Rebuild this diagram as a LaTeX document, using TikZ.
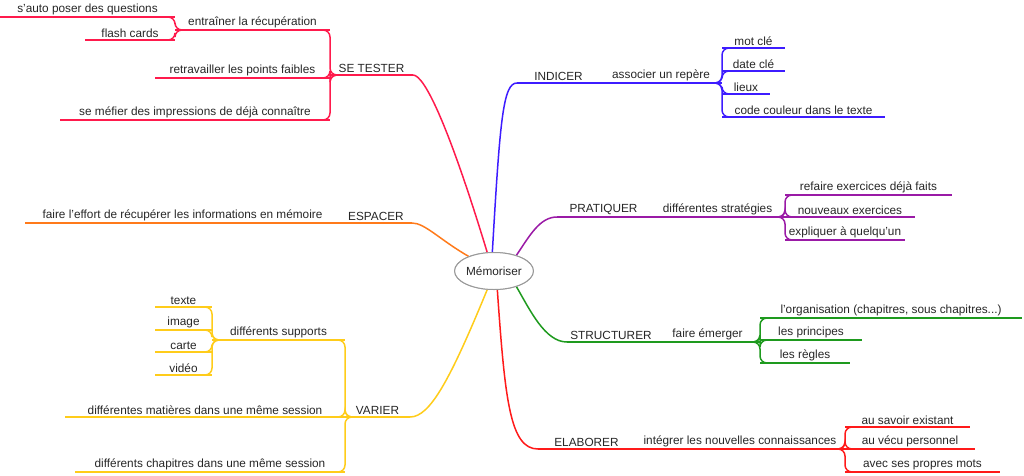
\documentclass[tikz,border=0pt]{standalone}
\usetikzlibrary{calc,shapes.geometric}
\usepackage{fontspec}
\setmainfont{Liberation Sans}
\definecolor{cB}{HTML}{3D1CFF}
\definecolor{cP}{HTML}{9A1AA6}
\definecolor{cG}{HTML}{1E9A1E}
\definecolor{cR}{HTML}{FF1A1A}
\definecolor{cC}{HTML}{FF1A4C}
\definecolor{cO}{HTML}{FF7A1A}
\definecolor{cY}{HTML}{FFCC1A}
\tikzset{lbl/.style={anchor=south,inner sep=2pt,font=\fontsize{11.8}{13}\selectfont,text=black!85},
 ln/.style={line width=1.5pt},
 cbox/.style={ellipse,draw=black!40,line width=1pt,fill=white,minimum width=78pt,minimum height=37pt,inner sep=0pt,font=\fontsize{11.8}{13}\selectfont,text=black!85}}
\newcommand\br[6]{\coordinate (#1-l) at (#2,#4);\coordinate (#1-r) at (#3,#4);
 \draw[ln,#6] (#1-l) -- (#1-r);
 \node[lbl] (#1) at ({(#2+#3)/2},#4) {#5};}
\newcommand\cnR[3]{\draw[ln,#1,rounded corners=7pt] ($(#2-r)+(-8,0)$) -- (#2-r) -- (#2-r |- #3-l) -- ($(#3-l)+(10,0)$);}
\newcommand\cnL[3]{\draw[ln,#1,rounded corners=7pt] ($(#2-l)+(8,0)$) -- (#2-l) -- (#2-l |- #3-r) -- ($(#3-r)+(-10,0)$);}
\begin{document}
\begin{tikzpicture}[x=1pt,y=-1pt]
\useasboundingbox (0,0) rectangle (1024,475);
\node[cbox] (m) at (494,271) {Mémoriser};
% right
\br{ind}{517}{600}{83}{INDICER}{cB}
\br{ass}{600}{722}{83}{associer un repère}{cB}
\br{mot}{722}{785}{48}{mot clé}{cB}
\br{dat}{722}{785}{71}{date clé}{cB}
\br{lie}{722}{770}{94}{lieux}{cB}
\br{cod}{722}{885}{117}{code couleur dans le texte}{cB}
\foreach \c in {mot,dat,lie,cod}{\cnR{cB}{ass}{\c}}
\br{pra}{557}{650}{217}{PRATIQUER}{cP}
\br{str}{650}{785}{217}{différentes stratégies}{cP}
\br{ref}{785}{952}{195}{refaire exercices déjà faits}{cP}
\br{nou}{785}{915}{217}{nouveaux exercices}{cP}
\br{exp}{785}{905}{240}{expliquer à quelqu'un}{cP}
\foreach \c in {ref,nou,exp}{\cnR{cP}{str}{\c}}
\br{stu}{567}{655}{342}{STRUCTURER}{cG}
\br{fai}{655}{760}{342}{faire émerger}{cG}
\br{org}{760}{1022}{318}{l'organisation (chapitres, sous chapitres...)}{cG}
\br{pri}{760}{862}{340}{les principes}{cG}
\br{reg}{760}{850}{363}{les règles}{cG}
\foreach \c in {org,pri,reg}{\cnR{cG}{fai}{\c}}
\br{ela}{538}{635}{449}{ELABORER}{cR}
\br{int}{635}{845}{449}{intégrer les nouvelles connaissances}{cR}
\br{sav}{845}{970}{427}{au savoir existant}{cR}
\br{vec}{845}{975}{449}{au vécu personnel}{cR}
\br{pro}{845}{1000}{472}{avec ses propres mots}{cR}
\foreach \c in {sav,vec,pro}{\cnR{cR}{int}{\c}}
% left
\br{tes}{330}{413}{75}{SE TESTER}{cC}
\br{ent}{175}{330}{30}{entraîner la récupération}{cC}
\br{sau}{0}{175}{17}{s'auto poser des questions}{cC}
\br{fla}{85}{175}{40}{flash cards}{cC}
\br{ret}{155}{330}{78}{retravailler les points faibles}{cC}
\br{mef}{60}{330}{120}{se méfier des impressions de déjà connaître}{cC}
\foreach \c in {ent,ret,mef}{\cnL{cC}{tes}{\c}}
\foreach \c in {sau,fla}{\cnL{cC}{ent}{\c}}
\br{esp}{340}{412}{223}{ESPACER}{cO}
\br{eff}{25}{340}{223}{faire l'effort de récupérer les informations en mémoire}{cO}
\br{var}{345}{410}{417}{VARIER}{cY}
\br{sup}{212}{345}{340}{différents supports}{cY}
\br{tex}{155}{212}{307}{texte}{cY}
\br{ima}{155}{212}{330}{image}{cY}
\br{car}{155}{212}{352}{carte}{cY}
\br{vid}{155}{212}{375}{vidéo}{cY}
\br{mat}{65}{345}{417}{différentes matières dans une même session}{cY}
\br{cha}{75}{345}{472}{différents chapitres dans une même session}{cY}
\foreach \c in {sup,mat,cha}{\cnL{cY}{var}{\c}}
\foreach \c in {tex,ima,car,vid}{\cnL{cY}{sup}{\c}}
% central connectors
\begin{scope}[ln]
\draw[cB] (m.95) .. controls (500,120) and (503,83) .. (ind-l);
\draw[cP] (m.35) .. controls (530,235) and (540,217) .. (pra-l);
\draw[cG] (m.-35) .. controls (530,310) and (545,342) .. (stu-l);
\draw[cR] (m.-80) .. controls (505,400) and (510,449) .. (ela-l);
\draw[cC] (m.110) .. controls (450,130) and (425,75) .. (tes-r);
\draw[cO] (m.150) .. controls (440,240) and (425,223) .. (esp-r);
\draw[cY] (m.-110) .. controls (450,380) and (430,417) .. (var-r);
\end{scope}
\node[cbox] at (m) {Mémoriser};
\end{tikzpicture}
\end{document}
